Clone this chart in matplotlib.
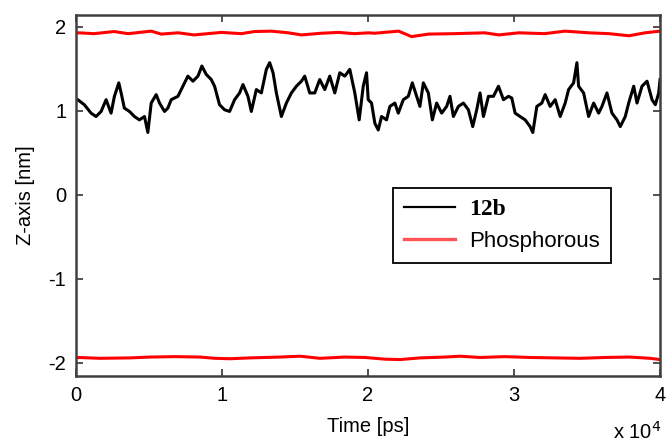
import matplotlib
matplotlib.use("Agg")
import matplotlib.pyplot as plt
from matplotlib.font_manager import FontProperties

# ---------------- data ----------------
t_12b = [0, 120, 570, 1030, 1370, 1720, 2060, 2400, 2630, 2930, 3090, 3310, 3660,
         4000, 4340, 4690, 4920, 5150, 5490, 5720, 6060, 6290, 6520, 6980, 7320,
         7660, 8010, 8350, 8620, 8920, 9260, 9490, 9830, 10175, 10518, 10861,
         11204, 11433, 11776, 12007, 12350, 12693, 13036, 13264, 13495, 13722,
         14065, 14408, 14751, 15094, 15437, 15664, 16007, 16350, 16693, 17036,
         17379, 17722, 18065, 18408, 18751, 19094, 19394, 19671, 19897, 20013,
         20240, 20467, 20700, 20926, 21269, 21496, 21839, 22072, 22415, 22758,
         23032, 23327, 23554, 23787, 24130, 24404, 24700, 25043, 25386, 25612,
         25845, 26188, 26531, 26874, 27170, 27444, 27671, 27904, 28247, 28590,
         28933, 29276, 29619, 29845, 30073, 30416, 30759, 31102, 31286, 31561,
         31904, 32131, 32474, 32817, 33160, 33503, 33736, 34079, 34305, 34422,
         34765, 35108, 35451, 35794, 36020, 36363, 36706, 37049, 37276, 37619,
         37852, 38195, 38421, 38764, 39107, 39450, 39676, 39909, 40000]
z_12b = [1.13, 1.13, 1.07, 0.97, 0.93, 0.99, 1.13, 0.97, 1.17, 1.33, 1.21, 1.03, 0.99,
         0.93, 0.89, 0.93, 0.74, 1.09, 1.19, 1.09, 0.99, 1.03, 1.13, 1.17, 1.29,
         1.41, 1.35, 1.41, 1.53, 1.43, 1.37, 1.29, 1.07, 1.01, 0.99, 1.13,
         1.21, 1.31, 1.17, 0.99, 1.25, 1.21, 1.49, 1.57, 1.45, 1.21,
         0.93, 1.09, 1.21, 1.29, 1.35, 1.41, 1.21, 1.21, 1.37, 1.25,
         1.41, 1.21, 1.45, 1.41, 1.49, 1.21, 0.89, 1.29, 1.45, 1.13,
         1.09, 0.85, 0.77, 0.93, 0.89, 1.05, 1.09, 0.97, 1.13, 1.17,
         1.33, 1.17, 1.05, 1.33, 1.21, 0.89, 1.09, 0.97, 1.05, 1.17,
         0.93, 1.05, 1.09, 1.01, 0.81, 1.01, 1.21, 0.93, 1.17, 1.17,
         1.29, 1.13, 1.17, 1.15, 0.97, 0.93, 0.89, 0.81, 0.74, 1.05,
         1.09, 1.19, 1.05, 1.13, 0.93, 1.09, 1.25, 1.33, 1.57, 1.29,
         1.21, 0.93, 1.09, 0.97, 1.05, 1.21, 0.97, 0.89, 0.81, 0.93,
         1.09, 1.29, 1.09, 1.29, 1.35, 1.13, 1.07, 1.21, 1.37]

t_p_top = [0, 206, 1235, 2607, 3568, 5146, 5832, 6998, 8096, 9948, 11320, 12213,
           13379, 14545, 15437, 16809, 17976, 19074, 20034, 20446, 22092, 22984,
           24151, 25935, 27993, 28954, 30326, 32109, 33481, 35128, 36500, 37872,
           38970, 40000]
z_p_top = [1.92, 1.925, 1.915, 1.94, 1.915, 1.945, 1.91, 1.925, 1.90, 1.93, 1.915,
           1.94, 1.945, 1.925, 1.90, 1.92, 1.93, 1.915, 1.925, 1.92, 1.945, 1.88,
           1.91, 1.915, 1.925, 1.90, 1.925, 1.915, 1.945, 1.925, 1.915, 1.89,
           1.925, 1.945]

t_p_bot = [0, 137, 1644, 3699, 5068, 6781, 8493, 9521, 10548, 11918, 13973, 15342,
           16712, 18424, 19795, 21164, 22192, 23562, 25274, 26301, 27671, 29384,
           31096, 32808, 34521, 36233, 37945, 39315, 40000]
z_p_bot = [-1.935, -1.935, -1.945, -1.94, -1.93, -1.925, -1.93, -1.945, -1.95, -1.94,
           -1.93, -1.92, -1.945, -1.93, -1.935, -1.955, -1.96, -1.94, -1.93, -1.92,
           -1.935, -1.925, -1.935, -1.94, -1.945, -1.935, -1.93, -1.945, -1.96]

x_ticks = [0, 10000, 20000, 30000, 40000]
x_tick_labels = ["0", "1", "2", "3", "4"]
y_ticks = [-2, -1, 0, 1, 2]
y_tick_labels = ["-2", "-1", "0", "1", "2"]
legend_labels = ["12b", "Phosphorous"]

# ---------------- figure ----------------
plt.rcParams['font.family'] = ['Liberation Sans', 'DejaVu Sans']
fig = plt.figure(figsize=(6.68, 4.46), dpi=100)
ax = fig.add_axes([0.1138, 0.157, 0.8743, 0.8094])

l1, = ax.plot(t_12b, z_12b, color='black', lw=2.2, label=legend_labels[0])
l2, = ax.plot(t_p_top, z_p_top, color='#ff0000', lw=2.2, label=legend_labels[1])
ax.plot(t_p_bot, z_p_bot, color='#ff0000', lw=2.2)

ax.set_xlim(0, 40000)
ax.set_ylim(-2.155, 2.137)
ax.set_xticks(x_ticks)
ax.set_xticklabels(x_tick_labels)
ax.set_yticks(y_ticks)
ax.set_yticklabels(y_tick_labels)
ax.tick_params(direction='in', length=5, width=1.2, top=True, right=True,
               labelsize=14.5, colors='#333333', labelcolor='black', pad=7)
for s in ax.spines.values():
    s.set_color('#404040')
    s.set_linewidth(1.8)

ax.set_xlabel("Time [ps]", fontsize=14.5, labelpad=9)
ax.set_ylabel("Z-axis [nm]", fontsize=14.5, labelpad=10)
fig.text(0.99, 0.008, r"x 10$^4$", ha='right', va='bottom', fontsize=14.5)

leg = ax.legend(handles=[l1, l2], loc='upper left', bbox_to_anchor=(0.543, 0.521),
                borderaxespad=0, fancybox=False, framealpha=1, edgecolor='black',
                fontsize=16, handlelength=2.3, handletextpad=0.6, borderpad=0.5,
                labelspacing=0.5)
leg.get_frame().set_linewidth(1.3)
leg.get_texts()[0].set_fontproperties(FontProperties(family='Liberation Serif', weight='bold', size=17))
leg.get_lines()[0].set_linewidth(1.6)
leg.get_lines()[1].set_color('#ff5555')
leg.get_lines()[1].set_linewidth(2.4)

fig.savefig("out.png", dpi=100)
